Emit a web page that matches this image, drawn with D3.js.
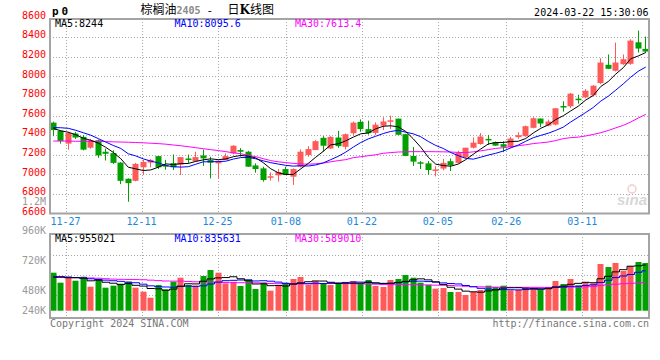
<!DOCTYPE html>
<html>
<head>
<meta charset="utf-8">
<script src="https://cdn.jsdelivr.net/npm/d3@7"></script>
<style>
  body { margin: 0; background: #fff; }
  text { font-family: "DejaVu Sans Mono", monospace; }
</style>
</head>
<body>
<div id="chart"></div>
<script>
// trading days shown on the chart
const dates = ["11-23","11-24","11-27","11-28","11-29","11-30",
  "12-01","12-04","12-05","12-06","12-07","12-08","12-11","12-12","12-13","12-14","12-15",
  "12-18","12-19","12-20","12-21","12-22","12-25","12-26","12-27","12-28","12-29",
  "01-02","01-03","01-04","01-05","01-08","01-09","01-10","01-11","01-12","01-15","01-16",
  "01-17","01-18","01-19","01-22","01-23","01-24","01-25","01-26","01-29","01-30","01-31",
  "02-01","02-02","02-05","02-06","02-07","02-08","02-19","02-20","02-21","02-22","02-23",
  "02-26","02-27","02-28","02-29","03-01","03-04","03-05","03-06","03-07","03-08",
  "03-11","03-12","03-13","03-14","03-15","03-18","03-19","03-20","03-21","03-22"];

const open = [7528,7445,7314,7417,7383,7272,7348,7231,7217,7120, 6955,6934,7072,7120,7186,7096,7114,7100,7162,7134,
  7193,7146,7112,7146,7214,7248,7231,7091,7061,6966, 6990,7054,6976,7078,7197,7248,7373,7264,7376,7281,
  7420,7536,7462,7423,7497,7540,7569,7410,7188,7123, 7112,7040,7059,7134,7117,7172,7272,7310,7362,7328,
  7308,7281,7380,7390,7475,7570,7498,7508,7698,7695, 7773,7786,7807,7932,8119,8058,8125,8129,8349,8281];
const high = [7538,7452,7434,7434,7400,7362,7355,7262,7245,7124, 6958,7117,7148,7155,7186,7148,7203,7176,7203,7231,
  7254,7180,7139,7214,7298,7268,7240,7112,7078,7020, 7054,7078,7061,7254,7288,7349,7390,7390,7444,7417,
  7540,7561,7548,7531,7583,7600,7569,7414,7278,7135, 7135,7083,7158,7162,7241,7272,7376,7421,7403,7335,
  7339,7383,7430,7498,7583,7570,7559,7678,7746,7831, 7813,7871,7912,8186,8224,8346,8224,8380,8468,8407];
const low = [7390,7314,7252,7362,7245,7262,7169,7141,7107,6900, 6720,6928,6993,7072,7055,7048,7045,6993,7114,7134,
  7085,6959,6960,7146,7205,7180,7078,7017,6925,6936, 6925,6993,6892,7071,7180,7248,7231,7258,7271,7254,
  7400,7435,7406,7403,7452,7462,7403,7186,7085,7055, 6995,6979,7041,7034,7110,7165,7265,7303,7300,7290,
  7227,7271,7363,7383,7470,7482,7492,7500,7641,7678, 7722,7776,7803,7922,8075,8051,8119,8119,8244,8244];
const close = [7452,7341,7424,7376,7252,7348,7193,7210,7117,6934, 6910,7107,7127,7148,7072,7079,7072,7176,7155,7176,
  7163,7119,7139,7186,7292,7231,7078,7054,6942,6980, 7024,6993,7054,7231,7258,7339,7292,7383,7288,7410,
  7528,7462,7420,7507,7540,7552,7404,7188,7130,7110, 7044,7050,7117,7093,7220,7272,7324,7386,7348,7293,
  7281,7366,7400,7492,7573,7519,7539,7675,7685,7824, 7759,7854,7905,8142,8078,8142,8176,8366,8285,8254];

const ma5 = [7470,7445,7430,7405,7369,7348,7319,7276,7224,7160, 7073,7056,7039,7045,7073,7107,7100,7109,7111,7132,
  7148,7158,7150,7157,7180,7193,7185,7168,7119,7057, 7016,6999,6999,7056,7112,7175,7235,7301,7312,7342,
  7380,7414,7422,7465,7491,7496,7485,7438,7363,7277, 7175,7104,7090,7083,7105,7150,7205,7259,7310,7325,
  7326,7335,7338,7366,7422,7470,7505,7560,7598,7648, 7696,7759,7805,7897,7948,8024,8089,8181,8209,8244];
const ma10 = [7478,7476,7470,7450,7425,7400,7365,7330,7295,7265, 7210,7188,7158,7135,7117,7090,7078,7074,7078,7103,
  7128,7129,7130,7134,7156,7171,7172,7159,7138,7119, 7105,7092,7084,7088,7085,7096,7117,7150,7184,7227,
  7278,7325,7362,7389,7417,7438,7450,7430,7414,7384, 7336,7295,7264,7223,7191,7163,7155,7175,7197,7215,
  7238,7270,7299,7338,7374,7398,7420,7449,7482,7535, 7583,7632,7683,7748,7798,7860,7924,7993,8053,8096];
const ma30 = [7340,7340,7340,7338,7338,7336,7336,7334,7332,7330, 7328,7325,7322,7318,7314,7308,7300,7292,7283,7272,
  7262,7252,7243,7232,7220,7210,7195,7180,7160,7140, 7128,7120,7112,7106,7104,7108,7115,7128,7140,7150,
  7170,7180,7190,7200,7215,7222,7228,7230,7232,7232, 7232,7231,7230,7228,7224,7222,7230,7240,7252,7265,
  7272,7282,7292,7302,7314,7322,7330,7345,7365,7375, 7380,7392,7408,7425,7448,7475,7500,7535,7575,7613];

// volume, thousands of lots
const volume = [796,587,699,628,712,503,657,482,524,566, 607,482,398,272,538,447,607,691,538,524,
  726,852,796,573,607,517,643,454,587,419, 538,587,664,706,538,622,573,538,587,560,
  622,573,643,517,496,643,664,748,691,587, 538,461,475,392,392,329,392,433,524,496,
  524,426,440,475,468,433,489,622,559,664, 531,601,573,978,915,999,831,936,1020,999];
const volMa5 = [700,705,690,690,684,626,640,596,576,546, 567,532,515,465,459,427,452,511,564,561,
  617,666,687,694,711,669,627,559,562,524, 528,517,559,583,607,623,621,595,572,576,
  576,576,597,583,570,574,593,614,648,667, 646,605,550,491,452,410,396,388,414,435,
  474,481,482,472,467,448,461,497,514,553, 573,595,586,669,720,813,859,932,940,955];
const volMa10 = [715,712,705,695,680,668,655,640,628,615, 597,586,556,521,503,497,492,513,515,510,
  522,559,599,629,636,643,647,623,628,618, 599,572,559,573,566,576,569,577,578,592,
  600,599,596,578,573,575,585,606,616,619, 610,599,582,570,560,528,501,469,453,444,
  442,439,435,443,451,461,472,490,493,510, 511,528,542,592,637,693,727,759,805,836];
const volMa30 = [700,698,696,694,690,686,680,670,662,657, 655,652,648,640,630,622,620,620,612,605,
  600,600,598,592,588,586,586,584,580,570, 565,562,560,560,562,565,568,570,570,568,
  566,562,558,555,548,546,545,545,545,542, 540,535,532,528,520,512,505,500,496,494,
  492,490,490,490,490,488,488,490,492,494, 496,500,505,530,545,555,565,575,582,589];

const tickDates = ["11-27","12-11","12-25","01-08","01-22","02-05","02-26","03-11"];
const priceTicks = [6600,6800,7000,7200,7400,7600,7800,8000,8200,8400,8600];
const volTickLabels = ["960K","720K","480K","240K"];

const RED = "#ff5a5a", GREEN = "#00a000", GRID = "#a8a8a8", BORDER = "#a4a4a4";

const svg = d3.select("#chart").append("svg")
    .attr("width", 660).attr("height", 360);

const main = {left: 50, right: 649, top: 19, bottom: 213.5};
const vol = {left: 50, right: 649, top: 234, bottom: 318};

// candle positions
const x = d3.scaleBand().domain(dates).range([49, 649]).paddingInner(0.2).paddingOuter(0.1);
// date grid uses a slightly wider step, as in the original
const xGrid = d3.scaleBand().domain(dates).range([50.3, 658.3]);
const y = d3.scaleLinear().domain([6600, 8600]).range([213.5, 17.7]);
const yVol = d3.scaleLinear().domain([0, 1000]).range([310.7, 262.96]);

const idx = d3.range(dates.length);
const cx = i => x(dates[i]) + x.bandwidth() / 2;
const up = i => close[i] >= open[i];

// grids
function dotted(g) { return g.attr("stroke", GRID).attr("stroke-width", 1).attr("stroke-dasharray", "1,2"); }

svg.append("g").selectAll("line").data(priceTicks.filter(p => p > 6600 && p < 8600)).join("line")
    .attr("x1", main.left).attr("x2", main.right)
    .attr("y1", d => Math.round(y(d)) + 0.5).attr("y2", d => Math.round(y(d)) + 0.5)
    .call(dotted);

svg.append("g").selectAll("line").data(tickDates).join("line")
    .attr("x1", d => Math.round(xGrid(d)) + 0.5).attr("x2", d => Math.round(xGrid(d)) + 0.5)
    .attr("y1", main.top).attr("y2", main.bottom)
    .call(dotted);

svg.append("g").selectAll("line").data(d3.range(3)).join("line")
    .attr("x1", vol.left).attr("x2", vol.right)
    .attr("y1", d => 255.5 + d * 20).attr("y2", d => 255.5 + d * 20)
    .call(dotted);

svg.append("g").selectAll("line").data(tickDates).join("line")
    .attr("x1", d => Math.round(xGrid(d)) + 0.5).attr("x2", d => Math.round(xGrid(d)) + 0.5)
    .attr("y1", vol.top).attr("y2", vol.bottom + 3)
    .call(dotted);

// sina watermark
const wm = svg.append("g").attr("opacity", 0.55);
wm.append("text").attr("x", 617).attr("y", 205)
    .style("font-family", "Liberation Sans, sans-serif").style("font-style", "italic")
    .style("font-weight", "bold").style("font-size", "15px").attr("fill", "#b8b8b8").text("sina");
wm.append("circle").attr("cx", 632).attr("cy", 189).attr("r", 4)
    .attr("fill", "none").attr("stroke", "#f0a0a0").attr("stroke-width", 1.5);

// candles
const candles = svg.append("g");
candles.selectAll("line").data(idx).join("line")
    .attr("x1", i => Math.round(cx(i)) + 0.5).attr("x2", i => Math.round(cx(i)) + 0.5)
    .attr("y1", i => y(high[i])).attr("y2", i => y(low[i]))
    .attr("stroke", i => up(i) ? RED : GREEN).attr("stroke-width", 1);

candles.selectAll("rect").data(idx).join("rect")
    .attr("x", i => Math.round(cx(i)) - 2.5)
    .attr("width", 6)
    .attr("y", i => y(Math.max(open[i], close[i])))
    .attr("height", i => Math.max(1.5, Math.abs(y(open[i]) - y(close[i]))))
    .attr("fill", i => up(i) ? RED : GREEN);

// price moving averages
const priceLine = d3.line().x(i => cx(i) + 0.5);
[[ma30, "#ff00ff"], [ma10, "#0000ff"], [ma5, "#000"]].forEach(([arr, c]) => {
    svg.append("path")
        .attr("d", priceLine.y(i => y(arr[i]))(idx))
        .attr("fill", "none").attr("stroke", c).attr("stroke-width", 1);
});

// volume bars
svg.append("g").selectAll("rect").data(idx).join("rect")
    .attr("x", i => Math.round(cx(i)) - 2.5)
    .attr("width", 6)
    .attr("y", i => yVol(volume[i]))
    .attr("height", i => yVol(0) - yVol(volume[i]))
    .attr("fill", i => up(i) ? RED : GREEN);

const volLine = d3.line().x(i => cx(i) + 0.5).curve(d3.curveStep);
[[volMa30, "#ff00ff"], [volMa10, "#0000ff"], [volMa5, "#000"]].forEach(([arr, c]) => {
    svg.append("path")
        .attr("d", volLine.y(i => yVol(arr[i]))(idx))
        .attr("fill", "none").attr("stroke", c).attr("stroke-width", 1);
});

// panel borders
[main, vol].forEach(p => {
    svg.append("rect")
        .attr("x", p.left).attr("y", p.top)
        .attr("width", p.right - p.left).attr("height", p.bottom - p.top)
        .attr("fill", "none").attr("stroke", BORDER).attr("stroke-width", 2);
});

// price axis labels
svg.append("g").selectAll("text").data(priceTicks).join("text")
    .attr("x", 46).attr("y", d => y(d) + 1.2)
    .attr("text-anchor", "end").attr("fill", "#f00")
    .style("font-size", "10px").text(d => d);

svg.append("text").attr("x", 46).attr("y", 204.5).attr("text-anchor", "end")
    .attr("fill", "#999").style("font-size", "10px").text("1.2M");

// volume axis labels
svg.append("g").selectAll("text").data(volTickLabels).join("text")
    .attr("x", 46).attr("y", (d, i) => Math.min(230.7 + i * 30, 310.7) + 3.7)
    .attr("text-anchor", "end").attr("fill", "#999")
    .style("font-size", "10px").text(d => d);

// date labels
svg.append("g").selectAll("text").data(tickDates).join("text")
    .attr("x", d => xGrid(d)).attr("y", 224.6)
    .attr("text-anchor", "middle").attr("fill", "#1a88d8")
    .style("font-size", "10px").text(d => d);

// MA legends
function legend(yPos, items) {
    items.forEach(([label, c, xPos]) => {
        svg.append("text").attr("x", xPos).attr("y", yPos)
            .attr("fill", c).style("font-size", "10px").text(label);
    });
}
legend(27, [["MA5:8244", "#000", 55], ["MA10:8095.6", "#0000ff", 174.5], ["MA30:7613.4", "#ff00ff", 295]]);
legend(242, [["MA5:955021", "#000", 55], ["MA10:835631", "#0000ff", 174.5], ["MA30:589010", "#ff00ff", 295]]);

// header
svg.append("text").attr("x", 52).attr("y", 14.5)
    .style("font-size", "11px").style("font-weight", "bold").style("letter-spacing", "3px")
    .attr("fill", "#000").text("p0");

const cjk = "'Noto Sans CJK SC', sans-serif";
svg.append("text").attr("x", 140.5).attr("y", 14)
    .style("font-family", cjk).style("font-size", "12px").attr("fill", "#000").text("棕榈油");
svg.append("text").attr("x", 176.5).attr("y", 14)
    .style("font-size", "10px").style("font-weight", "bold").attr("fill", "#8a8a8a").text("2405");
svg.append("text").attr("x", 206.5).attr("y", 14)
    .style("font-size", "11px").attr("fill", "#000").text("-");
svg.append("text").attr("x", 227.5).attr("y", 14)
    .style("font-family", cjk).style("font-size", "12px").attr("fill", "#000")
    .html('日<tspan style="font-family:DejaVu Serif;font-weight:bold">K</tspan>线图');

svg.append("text").attr("x", 648.5).attr("y", 15.5).attr("text-anchor", "end")
    .style("font-size", "10px").attr("fill", "#000").text("2024-03-22 15:30:06");

// footer
svg.append("text").attr("x", 50).attr("y", 326.5)
    .style("font-size", "10px").attr("fill", "#777").text("Copyright 2024 SINA.COM");
svg.append("text").attr("x", 649).attr("y", 326.5).attr("text-anchor", "end")
    .style("font-size", "10px").attr("fill", "#777").text("http://finance.sina.com.cn");
</script>
</body>
</html>
